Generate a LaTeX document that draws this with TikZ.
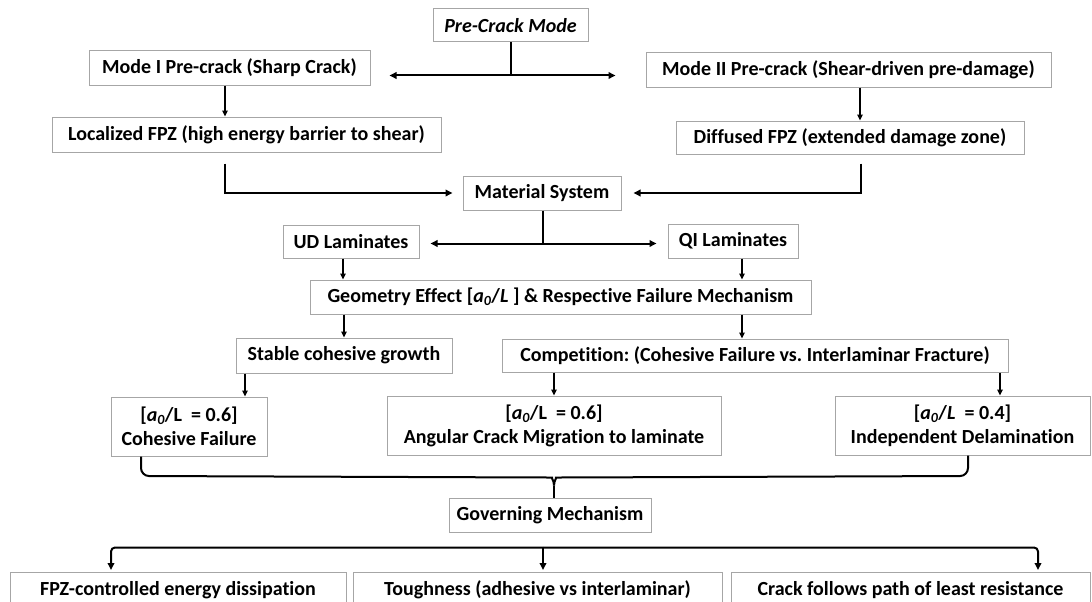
\documentclass[tikz,border=0pt]{standalone}
\usepackage{fontspec}
\setmainfont{Carlito}[Ligatures=NoCommon]
\usetikzlibrary{arrows.meta,calc}
\definecolor{boxgray}{HTML}{A6A6A6}
\newcommand{\azr}{{\itshape a\textsubscript{0}}}
\frenchspacing
\begin{document}
\begin{tikzpicture}[x=1pt,y=-1pt,
  box/.style={draw=boxgray, line width=1pt, inner sep=0pt, align=center,
    font=\fontsize{20}{24}\selectfont\bfseries},
  arr/.style={line width=2pt, -{Triangle[length=7pt,width=6.5pt]}},
  sarr/.style={line width=1.5pt, -{Triangle[length=6pt,width=5.5pt]}},
  ln/.style={line width=2pt}]
\clip (0,0) rectangle (1092,602);
\fill[white] (0,0) rectangle (1092,602);
% boxes
\node[box, minimum width=155pt, minimum height=33pt] (pre) at (510.5,25.5) {\itshape Pre-Crack Mode};
\node[box, minimum width=281pt, minimum height=34pt] (m1) at (229.5,68) {Mode I Pre-crack (Sharp Crack)};
\node[box, minimum width=405pt, minimum height=34pt] (m2) at (848.5,70) {Mode II Pre-crack (Shear-driven pre-damage)};
\node[box, minimum width=389pt, minimum height=35pt] (loc) at (246.5,134.5) {Localized FPZ (high energy barrier to shear)};
\node[box, minimum width=348pt, minimum height=33pt] (dif) at (850,137.5) {Diffused FPZ (extended damage zone)};
\node[box, minimum width=158pt, minimum height=34pt] (mat) at (542,193) {Material System};
\node[box, minimum width=136pt, minimum height=33pt] (ud) at (351,241.5) {UD Laminates};
\node[box, minimum width=130pt, minimum height=34pt] (qi) at (733,241) {QI Laminates};
\node[box, minimum width=501pt, minimum height=34pt] (geo) at (560.5,297) {Geometry Effect [\azr/{\itshape L} ] \& Respective Failure Mechanism};
\node[box, minimum width=216pt, minimum height=35pt] (stab) at (344,355.5) {Stable cohesive growth};
\node[box, minimum width=506pt, minimum height=33pt] (comp) at (755,355.5) {Competition: (Cohesive Failure vs. Interlaminar Fracture)};
\node[box, minimum width=156pt, minimum height=59pt] (coh) at (189,426.5) {[\azr/L\ \ = 0.6]\\Cohesive Failure};
\node[box, minimum width=334pt, minimum height=59pt] (ang) at (554,425.5) {[\azr/L\ \ = 0.6]\\Angular Crack Migration to laminate};
\node[box, minimum width=255pt, minimum height=59pt] (ind) at (962.5,425.5) {[\azr/{\itshape L}\ \ = 0.4]\\Independent Delamination};
\node[box, minimum width=202pt, minimum height=34pt] (gov) at (550,515) {Governing Mechanism};
\node[box, minimum width=336pt, minimum height=36pt] (b1) at (178,590) {FPZ-controlled energy dissipation};
\node[box, minimum width=369pt, minimum height=36pt] (b2) at (537.5,590) {Toughness (adhesive vs interlaminar)};
\node[box, minimum width=359pt, minimum height=36pt] (b3) at (910.5,590) {Crack follows path of least resistance};

% pre-crack split
\coordinate (pj) at ($(pre.south)+(0,33)$);
\draw[ln] (pre.south) -- (pj);
\draw[arr, shorten >=19pt] (pj) -- (pj -| m1.east);
\draw[arr, shorten >=30pt] (pj) -- (pj -| m2.west);
% mode -> fpz
\draw[sarr] ($(m1.south)+(-4.5,0)$) -- ($(m1.south |- loc.north)+(-4.5,0)$);
\draw[sarr] ($(m2.south)+(11.5,0)$) -- ($(m2.south |- dif.north)+(11.5,0)$);
% fpz -> material
\draw[arr, shorten >=10pt] ($(loc.south)+(-21.5,11)$) |- (mat.west);
\draw[arr, shorten >=12pt] ($(dif.south)+(11,9)$) |- (mat.east);
% material split
\coordinate (mj) at ($(mat.south)+(1,33)$);
\draw[line width=2.4pt] ($(mat.south)+(1,0)$) -- (mj);
\draw[arr, shorten >=11pt] (mj) -- (mj -| ud.east);
\draw[arr, shorten >=11pt] (mj) -- (mj -| qi.west);
% laminates -> geometry
\draw[sarr] ($(ud.south)+(-8,0)$) -- ($(ud.south |- geo.north)+(-8,0)$);
\draw[sarr] ($(qi.south)+(9,0)$) -- ($(qi.south |- geo.north)+(9,0)$);
% geometry -> stable / competition
\draw[sarr] ($(geo.south)+(-216.5,0)$) -- ($(geo.south |- stab.north)+(-216.5,0)$);
\draw[sarr] ($(geo.south)+(181.5,0)$) -- ($(geo.south |- comp.north)+(181.5,0)$);
% stable -> cohesive
\draw[sarr] ($(stab.south)+(-99,0)$) -- ($(stab.south |- coh.north)+(-99,0)$);
% competition -> angular / independent
\draw[sarr] ($(comp.south)+(-201,0)$) -- ($(comp.south |- ang.north)+(-201,0)$);
\draw[sarr] ($(comp.south)+(245,0)$) -- ($(comp.south |- ind.north)+(245,0)$);
% bracket to governing
\coordinate (gj) at ($(gov.north)+(4,-12)$);
\draw[ln, rounded corners=8pt] ($(coh.south)+(-48,0)$) -- ($(coh.south)+(-48,19.5)$) -- ($(gj)+(-10,-8)$)
  .. controls ($(gj)+(-3,-8)$) and ($(gj)+(0,-5)$) .. (gj);
\draw[ln, rounded corners=8pt] ($(ind.south)+(5.5,0)$) -- ($(ind.south)+(5.5,20.5)$) -- ($(gj)+(10,-8)$)
  .. controls ($(gj)+(3,-8)$) and ($(gj)+(0,-5)$) .. (gj);
\draw[ln] (gj) -- ($(gov.north)+(4,0)$);
% governing -> outcomes
\coordinate (bar) at ($(b2.north)+(5.5,-24)$);
\draw[arr, rounded corners=4pt, shorten >=1.5pt] (bar) -| ($(b1.north)+(-67,0)$);
\draw[arr, rounded corners=4pt, shorten >=1.5pt] (bar) -| ($(b3.north)+(127.5,0)$);
\draw[arr, shorten >=1.5pt] (bar) -- (bar |- b2.north);
\end{tikzpicture}
\end{document}
